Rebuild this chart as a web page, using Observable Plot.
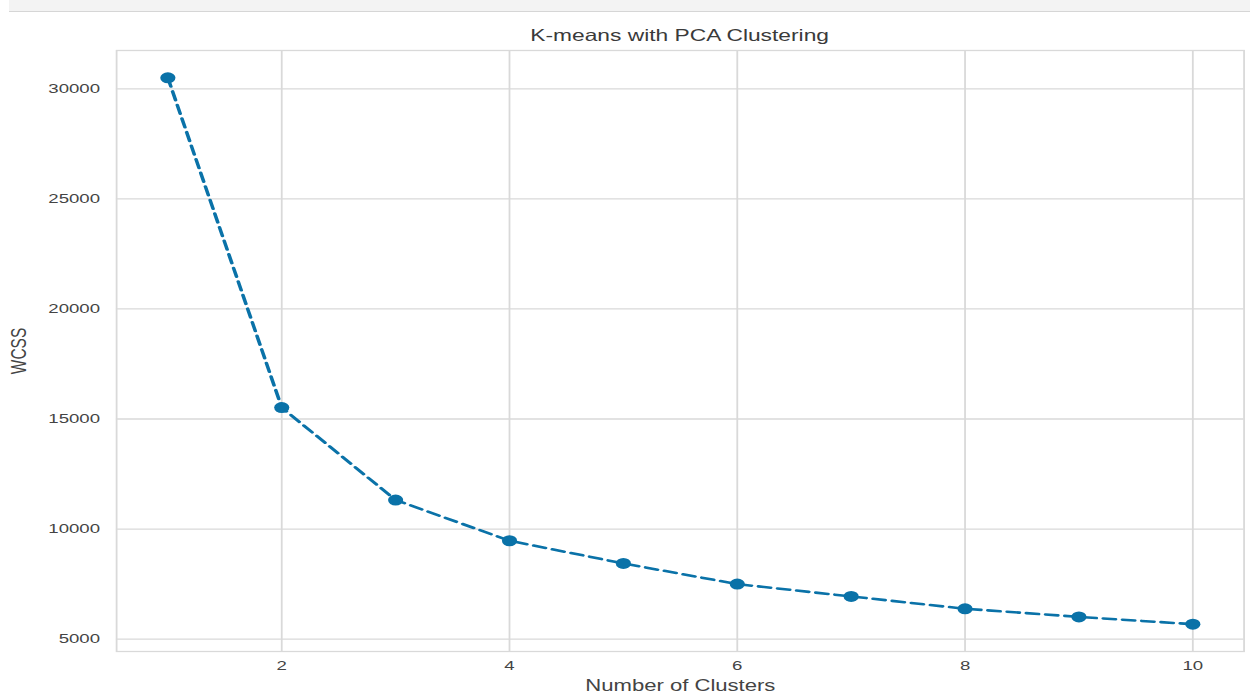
<!DOCTYPE html>
<html>
<head>
<meta charset="utf-8">
<script src="https://cdn.jsdelivr.net/npm/d3@7"></script>
<script src="https://cdn.jsdelivr.net/npm/@observablehq/plot@0.6"></script>
<style>
  html, body { margin: 0; padding: 0; background: #fff; }
  body { width: 1250px; height: 693px; overflow: hidden; font-family: "Liberation Sans", Arial, sans-serif; }
  #band { margin-left: 9px; height: 11px; background: #f3f3f3; border-bottom: 1px solid #d6d6d6; }
  #wrap { width: 906px; transform: scaleX(1.38); transform-origin: 0 0; }
  #title { box-sizing: border-box; width: 906px; height: 20px; margin-top: 13px; line-height: 20px;
           font-size: 16.5px; color: #3a3a3a; text-align: center; padding-left: 84px; padding-right: 5px; }
  #chart svg { display: block; }
</style>
</head>
<body>
<div id="band"></div>
<div id="wrap">
  <div id="title">K-means with PCA Clustering</div>
  <div id="chart"></div>
</div>
<script>
const clusters = [1, 2, 3, 4, 5, 6, 7, 8, 9, 10];
const wcss = [30500, 15520, 11320, 9470, 8440, 7500, 6940, 6380, 6010, 5680];
const xTicks = [2, 4, 6, 8, 10];
const yTicks = [5000, 10000, 15000, 20000, 25000, 30000];
const xLabel = "Number of Clusters";
const yLabel = "WCSS";
const lineColor = "#0a72a8";
const gridColor = "#d9d9d9";

const data = clusters.map((k, i) => ({k, w: wcss[i]}));

function padded(arr) {
  const [lo, hi] = d3.extent(arr);
  const p = (hi - lo) * 0.05;
  return [lo - p, hi + p];
}

const chart = Plot.plot({
  width: 906,
  height: 648,
  marginTop: 5,
  marginBottom: 42,
  marginLeft: 84,
  marginRight: 5,
  style: { fontFamily: "'Liberation Sans', Arial, sans-serif", color: "#444", background: "#fff" },
  x: { domain: padded(clusters), label: null },
  y: { domain: padded(wcss), label: null },
  marks: [
    Plot.gridX(xTicks, { stroke: gridColor, strokeOpacity: 1, strokeWidth: 1.3 }),
    Plot.gridY(yTicks, { stroke: gridColor, strokeOpacity: 1, strokeWidth: 1.3 }),
    Plot.frame({ stroke: gridColor, strokeWidth: 1.3 }),
    Plot.axisX(xTicks, { tickSize: 0, tickPadding: 9, fontSize: 13.5, tickFormat: d => String(d), label: null }),
    Plot.axisX([], { tickSize: 0, fontSize: 16, label: xLabel, labelAnchor: "center", labelOffset: 39.5, labelArrow: "none" }),
    Plot.axisY(yTicks, { tickSize: 0, tickPadding: 12, fontSize: 13.5, tickFormat: d => String(d), label: null }),
    Plot.axisY([], { tickSize: 0, fontSize: 15.5, label: yLabel, labelAnchor: "center", labelOffset: 77, labelArrow: "none" }),
    Plot.line(data, { x: "k", y: "w", stroke: lineColor, strokeWidth: 2.6, strokeDasharray: "9,5" }),
    Plot.dot(data, { x: "k", y: "w", r: 5.5, fill: lineColor, stroke: "none" })
  ]
});
document.getElementById("chart").appendChild(chart);
</script>
</body>
</html>
